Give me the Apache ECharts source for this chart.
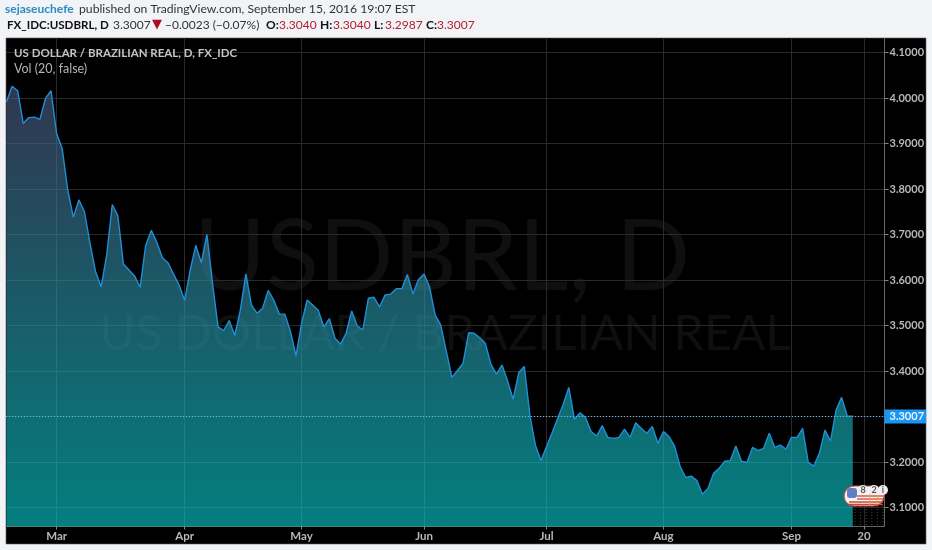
<!DOCTYPE html>
<html><head><meta charset="utf-8">
<style>html,body{margin:0;padding:0;background:#f1f3f6}#c{width:932px;height:550px}</style>
<script src="https://cdn.jsdelivr.net/npm/echarts@6/dist/echarts.min.js"></script>
</head><body><div id="c"></div>
<script>
const prices = [3.992,4.026,4.016,3.944,3.957,3.958,3.953,3.999,4.016,3.922,3.889,3.798,3.738,3.776,3.750,3.681,3.618,3.585,3.655,3.766,3.741,3.635,3.622,3.609,3.584,3.676,3.709,3.683,3.649,3.638,3.613,3.589,3.555,3.622,3.676,3.638,3.700,3.593,3.497,3.489,3.511,3.478,3.534,3.613,3.545,3.527,3.538,3.577,3.556,3.525,3.525,3.487,3.433,
3.505,3.556,3.545,3.533,3.497,3.515,3.472,3.459,3.483,3.532,3.499,3.490,3.560,3.562,3.541,3.567,3.569,3.581,3.581,3.612,3.569,3.601,3.613,3.584,3.523,3.501,3.443,3.386,3.401,3.417,3.484,3.483,3.473,3.461,3.415,3.393,3.413,3.378,3.338,3.396,3.410,3.303,3.237,3.203,3.234,3.264,3.296,3.327,3.364,
3.294,3.308,3.298,3.267,3.257,3.280,3.254,3.252,3.254,3.272,3.254,3.286,3.274,3.263,3.278,3.241,3.267,3.256,3.235,3.190,3.166,3.169,3.159,3.129,3.142,3.175,3.186,3.202,3.203,3.235,3.202,3.199,3.232,3.225,3.230,3.263,3.232,3.237,3.228,3.254,3.254,3.274,3.199,3.191,3.219,3.270,3.246,3.314,3.342,3.301,3.3007];
const tickDays = [9,32,53,75,97,118,141,154];
const tickLabels = ['Mar','Apr','May','Jun','Jul','Aug','Sep','20'];
const priceTicks = [3.1,3.2,3.3,3.4,3.5,3.6,3.7,3.8,3.9,4.0,4.1];
const lastPrice = 3.3007;
const points = prices.map((v,i)=>[i,v]);

const F = 'Lato,"Open Sans",sans-serif';
const chart = echarts.init(document.getElementById('c'),null,{renderer:'canvas'});

function headerText(x,y,t,fill,font){
  return {type:'text',z:30,style:{x:x,y:y,text:t,fill:fill,font:font+' '+F}};
}
function flag(){
  const o=[];
  o.push({type:'rect',z:20,shape:{x:844,y:486,width:40,height:20,r:10},style:{fill:'#f4f4f4',stroke:'#c8483e',lineWidth:1.2}});
  o.push({type:'rect',z:21,shape:{x:847,y:488,width:10,height:10,r:3},style:{fill:'#5d7fc4'}});
  [496,499,502,504.5].forEach((y,i)=>o.push({type:'line',z:21,shape:{x1:i<2?857:849,y1:y,x2:883,y2:y},style:{stroke:'#d2453a',lineWidth:1.3}}));
  [[863,'8'],[874,'2'],[883,'i']].forEach(([x,t])=>{
    o.push({type:'circle',z:22,shape:{cx:x,cy:490,r:5},style:{fill:'#eeeeee'}});
    o.push({type:'text',z:23,style:{x:x,y:490,text:t,fill:'#555',font:'bold 9px '+F,align:'center',verticalAlign:'middle'}});
  });
  o.push({type:'line',z:22,shape:{x1:870,y1:494,x2:870,y2:505},style:{stroke:'#f0a030',lineWidth:1}});
  o.push({type:'line',z:22,shape:{x1:878,y1:496,x2:876,y2:505},style:{stroke:'#f0a030',lineWidth:1}});
  for(let x=855;x<884;x+=5.6){
    o.push({type:'line',z:4,shape:{x1:x,y1:506,x2:x,y2:526},style:{stroke:'#444',lineWidth:1,lineDash:[1,2]}});
  }
  return o;
}

chart.setOption({
  animation:false,
  backgroundColor:'#f1f3f6',
  textStyle:{fontFamily:F},
  grid:{left:6,right:47.5,top:38.5,bottom:23.5,show:false,containLabel:false},
  graphic:[
    {type:'rect',z:-10,shape:{x:6,y:38,width:920,height:506},style:{fill:'#000',stroke:'#5a5a5a',lineWidth:0.6}},
    {type:'text',z:-5,style:{x:442,y:258,text:'USDBRL, D',fill:'#0f0f0f',font:'98px '+F,align:'center',verticalAlign:'middle'}},
    {type:'text',z:-5,style:{x:445,y:334,text:'US DOLLAR / BRAZILIAN REAL',fill:'#0f0f0f',font:'49px '+F,align:'center',verticalAlign:'middle'}},
    headerText(5,3,'sejaseuchefe','#2a8bbf','bold 12px'),
    headerText(79,3,'published on TradingView.com, September 15, 2016 19:07 EST','#333','12.2px'),
    headerText(7,19,'FX_IDC:USDBRL, D','#111','bold 11.6px'),
    headerText(113,19,'3.3007','#333','12px'),
    {type:'text',z:30,style:{x:152,y:18,text:'▼',fill:'#a8101c',font:'13px "DejaVu Sans"'}},
    headerText(165,19,'−0.0023 (−0.07%)','#333','12px'),
    headerText(266,19,'O:','#111','bold 12px'),
    headerText(279,19,'3.3040','#b3202f','12px'),
    headerText(320,19,'H:','#111','bold 12px'),
    headerText(333,19,'3.3040','#b3202f','12px'),
    headerText(374,19,'L:','#111','bold 12px'),
    headerText(385,19,'3.2987','#b3202f','12px'),
    headerText(426,19,'C:','#111','bold 12px'),
    headerText(437,19,'3.3007','#b3202f','12px'),
    {type:'text',z:30,style:{x:14,y:47,text:'US DOLLAR / BRAZILIAN REAL, D, FX_IDC',fill:'#c4c4c4',font:'bold 11.5px '+F}},
    {type:'text',z:30,style:{x:14,y:62,text:'Vol (20, false)',fill:'#b4b4b4',font:'12.5px '+F}}
  ].concat(flag()),
  xAxis:{type:'value',min:-0.09,max:157.7,position:'bottom',
    axisLine:{onZero:false,lineStyle:{color:'#666',width:1}},
    axisTick:{show:true,length:3,lineStyle:{color:'#888'},customValues:tickDays},
    axisLabel:{color:'#b8b8b8',fontSize:11.5,fontWeight:'bold',margin:4,customValues:tickDays,
      formatter:v=>tickLabels[tickDays.indexOf(v)]||''},
    splitLine:{show:true,lineStyle:{color:'#2a2a2a',width:1}}
  },
  yAxis:{type:'value',min:3.0582,max:4.1308,position:'right',
    axisLine:{show:true,onZero:false,lineStyle:{color:'#666',width:1}},
    axisTick:{show:true,length:4,lineStyle:{color:'#888'},customValues:priceTicks},
    axisLabel:{color:'#b8b8b8',fontSize:11,fontWeight:'bold',margin:5,customValues:priceTicks,
      formatter:v=>v.toFixed(4)},
    splitLine:{show:true,lineStyle:{color:'#2a2a2a',width:1}}
  },
  series:[{type:'line',data:points,showSymbol:false,symbol:'none',smooth:false,clip:true,z:3,
    lineStyle:{color:'#1e8fd8',width:1.4},
    areaStyle:{opacity:1,color:new echarts.graphic.LinearGradient(0,0,0,1,[
      {offset:0,color:'rgba(78,88,130,0.62)'},
      {offset:1,color:'rgba(6,205,205,0.62)'}])},
    markLine:{silent:true,symbol:'none',
      lineStyle:{color:'#5fb8ea',type:[1,2],width:1},
      label:{show:true,position:'end',distance:0,formatter:()=>lastPrice.toFixed(4),color:'#e8f4ff',
        backgroundColor:'#1a96f2',padding:[2,2,1,5],fontSize:11,fontWeight:'bold',fontFamily:F},
      data:[{yAxis:lastPrice}]}
  }]
});
</script></body></html>
